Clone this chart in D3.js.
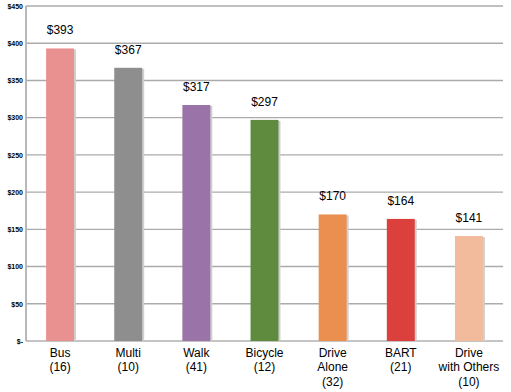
<!DOCTYPE html>
<html><head><meta charset="utf-8">
<script src="https://cdn.jsdelivr.net/npm/d3@7"></script>
<style>body{margin:0;background:#fff;}svg{display:block;font-family:Arial,"Liberation Sans",sans-serif;}</style>
</head><body><svg id="c" width="511" height="392"></svg>
<script>
const categories = [["Bus","(16)"],["Multi","(10)"],["Walk","(41)"],["Bicycle","(12)"],["Drive","Alone","(32)"],["BART","(21)"],["Drive","with Others","(10)"]];
const values = [393, 367, 317, 297, 170, 164, 141];
const colors = ["#E99190","#8E8E8E","#9A73A8","#5F8B3F","#EA8F4F","#DC403C","#F2BB9C"];
const ticks = [0,50,100,150,200,250,300,350,400,450];

const svg = d3.select("#c");
const x0 = 26, x1 = 503, yTop = 6, yBot = 341;
const x = d3.scaleBand().domain(d3.range(values.length)).range([x0, x1]).paddingInner(0.59).paddingOuter(0.295);
const y = d3.scaleLinear().domain([0, 450]).range([yBot, yTop]);

// gridlines
svg.append("g").selectAll("line").data(ticks.filter(t=>t>0)).join("line")
  .attr("x1", x0).attr("x2", x1).attr("y1", d=>y(d)).attr("y2", d=>y(d))
  .attr("stroke","#ababab").attr("stroke-width",1.4);

// y axis
const yAxis = d3.axisLeft(y).tickValues(ticks).tickSize(0).tickPadding(3)
  .tickFormat(d => d === 0 ? "$-" : "$" + d);
const ga = svg.append("g").attr("transform", `translate(${x0},0)`).call(yAxis);
ga.select(".domain").remove();
ga.selectAll("text").attr("font-size", 7).attr("font-weight","bold").attr("fill","#000").attr("font-family","Arial, 'Liberation Sans', sans-serif");
svg.append("line").attr("x1",x0).attr("x2",x0).attr("y1",yTop).attr("y2",yBot).attr("stroke","#b8b8b8").attr("stroke-width",2);
svg.append("line").attr("x1",x0).attr("x2",x1).attr("y1",yBot).attr("y2",yBot).attr("stroke","#b0b0b0").attr("stroke-width",1.5);

// bar shadows
svg.append("g").selectAll("rect").data(values).join("rect")
  .attr("x",(d,i)=>x(i)+2).attr("y",d=>y(d)+1).attr("width",x.bandwidth()).attr("height",d=>yBot-y(d)-1)
  .attr("fill","#cfcfcf");
// bars
svg.append("g").selectAll("rect").data(values).join("rect")
  .attr("x",(d,i)=>x(i)).attr("y",d=>y(d)).attr("width",x.bandwidth()).attr("height",d=>yBot-y(d))
  .attr("fill",(d,i)=>colors[i]);

// value labels
svg.append("g").selectAll("text").data(values).join("text")
  .attr("x",(d,i)=>x(i)+x.bandwidth()/2).attr("y",d=>y(d)-14)
  .attr("text-anchor","middle").attr("font-size",12).attr("fill","#000")
  .text(d=>"$"+d);

// category labels
const cg = svg.append("g").selectAll("text").data(categories).join("text")
  .attr("x",(d,i)=>x(i)+x.bandwidth()/2).attr("y",356.5)
  .attr("text-anchor","middle").attr("font-size",12).attr("fill","#000");
cg.selectAll("tspan").data(d=>d).join("tspan")
  .attr("x",function(){return this.parentNode.getAttribute("x");})
  .attr("dy",(d,i)=>i===0?0:14.5).text(d=>d);
</script></body></html>
